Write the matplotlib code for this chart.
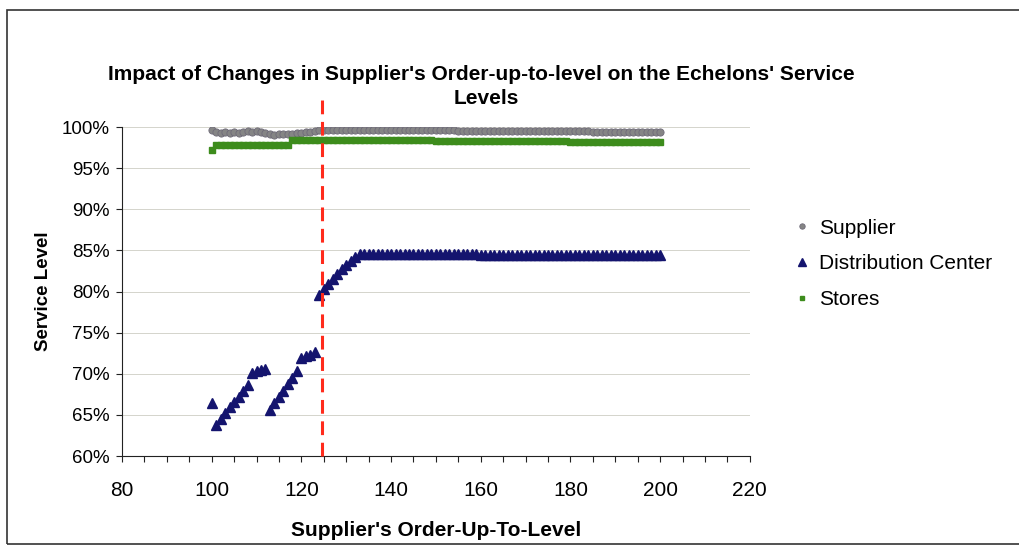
import matplotlib
matplotlib.use('agg')
import matplotlib.pyplot as plt
import matplotlib.ticker as tick
from matplotlib.patches import Rectangle
import numpy as np

plt.rcParams['font.family'] = ['Liberation Sans', 'DejaVu Sans']

# supplier's order-up-to level, one run per integer level
order_up_to = np.arange(100, 201)

supplier_sl = [
    99.6, 99.4, 99.3, 99.4, 99.3, 99.4, 99.3, 99.4, 99.5, 99.4,   # 100-109
    99.5, 99.4, 99.3, 99.1, 99.0, 99.1, 99.2, 99.1, 99.2, 99.3,   # 110-119
    99.3, 99.4, 99.4, 99.5, 99.6, 99.6, 99.6, 99.6, 99.6, 99.6,   # 120-129
    99.6, 99.6, 99.6, 99.6, 99.6, 99.6, 99.6, 99.6, 99.6, 99.6,   # 130-139
    99.6, 99.6, 99.6, 99.6, 99.6, 99.6, 99.6, 99.6, 99.6, 99.6,   # 140-149
    99.6, 99.6, 99.6, 99.6, 99.6, 99.5, 99.5, 99.5, 99.5, 99.5,   # 150-159
    99.5, 99.5, 99.5, 99.5, 99.5, 99.5, 99.5, 99.5, 99.5, 99.5,   # 160-169
    99.5, 99.5, 99.5, 99.5, 99.5, 99.5, 99.5, 99.5, 99.5, 99.5,   # 170-179
    99.5, 99.5, 99.5, 99.5, 99.5, 99.4, 99.4, 99.4, 99.4, 99.4,   # 180-189
    99.4, 99.4, 99.4, 99.4, 99.4, 99.4, 99.4, 99.4, 99.4, 99.4,   # 190-199
    99.4,                                                         # 200
]

dc_sl = [
    66.5, 63.8, 64.5, 65.2, 65.9, 66.6, 67.2, 67.9, 68.6, 70.1,   # 100-109
    70.3, 70.4, 70.6, 65.6, 66.4, 67.2, 67.9, 68.7, 69.5, 70.3,   # 110-119
    71.9, 72.1, 72.3, 72.6, 79.6, 80.3, 80.9, 81.5, 82.1, 82.7,   # 120-129
    83.2, 83.7, 84.2, 84.6, 84.6, 84.6, 84.6, 84.6, 84.6, 84.6,   # 130-139
    84.6, 84.6, 84.6, 84.6, 84.6, 84.6, 84.6, 84.6, 84.6, 84.6,   # 140-149
    84.6, 84.6, 84.6, 84.6, 84.6, 84.6, 84.6, 84.6, 84.6, 84.6,   # 150-159
    84.5, 84.5, 84.5, 84.5, 84.5, 84.5, 84.5, 84.5, 84.5, 84.5,   # 160-169
    84.5, 84.5, 84.5, 84.5, 84.5, 84.5, 84.5, 84.5, 84.5, 84.5,   # 170-179
    84.5, 84.5, 84.5, 84.5, 84.5, 84.4, 84.4, 84.4, 84.4, 84.4,   # 180-189
    84.4, 84.4, 84.4, 84.4, 84.4, 84.4, 84.4, 84.4, 84.4, 84.4,   # 190-199
    84.4,                                                         # 200
]

stores_sl = [
    97.2, 97.8, 97.8, 97.8, 97.8, 97.8, 97.8, 97.8, 97.8, 97.8,   # 100-109
    97.8, 97.8, 97.8, 97.8, 97.8, 97.8, 97.8, 97.8, 98.4, 98.4,   # 110-119
    98.4, 98.4, 98.4, 98.4, 98.4, 98.4, 98.4, 98.4, 98.4, 98.4,   # 120-129
    98.4, 98.4, 98.4, 98.4, 98.4, 98.4, 98.4, 98.4, 98.4, 98.4,   # 130-139
    98.4, 98.4, 98.4, 98.4, 98.4, 98.4, 98.4, 98.4, 98.4, 98.4,   # 140-149
    98.3, 98.3, 98.3, 98.3, 98.3, 98.3, 98.3, 98.3, 98.3, 98.3,   # 150-159
    98.3, 98.3, 98.3, 98.3, 98.3, 98.3, 98.3, 98.3, 98.3, 98.3,   # 160-169
    98.3, 98.3, 98.3, 98.3, 98.3, 98.3, 98.3, 98.3, 98.3, 98.3,   # 170-179
    98.2, 98.2, 98.2, 98.2, 98.2, 98.2, 98.2, 98.2, 98.2, 98.2,   # 180-189
    98.2, 98.2, 98.2, 98.2, 98.2, 98.2, 98.2, 98.2, 98.2, 98.2,   # 190-199
    98.2,                                                         # 200
]

chosen_level = 124.5

x_ticks = [80, 100, 120, 140, 160, 180, 200, 220]
y_ticks = [0.60, 0.65, 0.70, 0.75, 0.80, 0.85, 0.90, 0.95, 1.00]


def to_frac(values):
    return [v / 100.0 for v in values]


def plot_service_levels():
    fig = plt.figure(figsize=(10.2, 5.53), dpi=100)
    ax = fig.add_axes([0.1196, 0.1754, 0.6155, 0.5949])

    ax.plot(order_up_to, to_frac(supplier_sl), linestyle='none', marker='o',
            markersize=5.2, color='#858585', markeredgecolor='#6e6a78',
            markeredgewidth=0.6, label='Supplier', zorder=3)
    ax.plot(order_up_to, to_frac(dc_sl), linestyle='none', marker='^',
            markersize=7, color='#14146e', label='Distribution Center', zorder=3)
    ax.plot(order_up_to, to_frac(stores_sl), linestyle='none', marker='s',
            markersize=4.8, color='#3d8c1c', label='Stores', zorder=3)

    # chosen order-up-to level
    ax.plot([chosen_level, chosen_level], [0.60, 1.033], color='#ff2b1c',
            lw=2.2, dashes=(4.5, 2.5), clip_on=False, zorder=4)

    ax.set_xlim(80, 220)
    ax.set_ylim(0.60, 1.00)
    ax.set_xticks(x_ticks)
    ax.set_yticks(y_ticks)
    ax.xaxis.set_minor_locator(tick.MultipleLocator(5))
    ax.yaxis.set_major_formatter(tick.FuncFormatter(lambda v, p: '%d%%' % round(v * 100)))

    ax.grid(axis='y', color='#d4d4cc', lw=0.7)
    ax.set_axisbelow(True)
    ax.spines['right'].set_visible(False)
    ax.spines['top'].set_visible(False)
    ax.spines['left'].set_color('#222222')
    ax.spines['bottom'].set_color('#222222')
    ax.tick_params(axis='both', which='both', direction='out', length=4,
                   width=0.8, colors='#222222', labelcolor='black')
    ax.tick_params(axis='x', labelsize=15, pad=14)
    ax.tick_params(axis='y', labelsize=13.5, pad=5)

    ax.set_xlabel("Supplier's Order-Up-To-Level", fontsize=15, fontweight='bold',
                  labelpad=15)
    ax.set_ylabel('Service Level', fontsize=13.5, fontweight='bold', labelpad=7)

    fig.text(0.472, 0.866, "Impact of Changes in Supplier's Order-up-to-level on the Echelons' Service",
             ha='center', va='center', fontsize=15, fontweight='bold')
    fig.text(0.477, 0.821, 'Levels', ha='center', va='center', fontsize=15,
             fontweight='bold')

    fig.legend(loc='center left', bbox_to_anchor=(0.758, 0.523), frameon=False,
               fontsize=15, handletextpad=0.3, labelspacing=0.8,
               handlelength=1.0, markerscale=0.75)

    # chart area border
    fig.patches.append(Rectangle((0.007, 0.016), 1.0, 0.966, transform=fig.transFigure,
                                 fill=False, edgecolor='#333333', lw=1.2))

    fig.savefig('out.png', dpi=100)


if __name__ == '__main__':
    plot_service_levels()
